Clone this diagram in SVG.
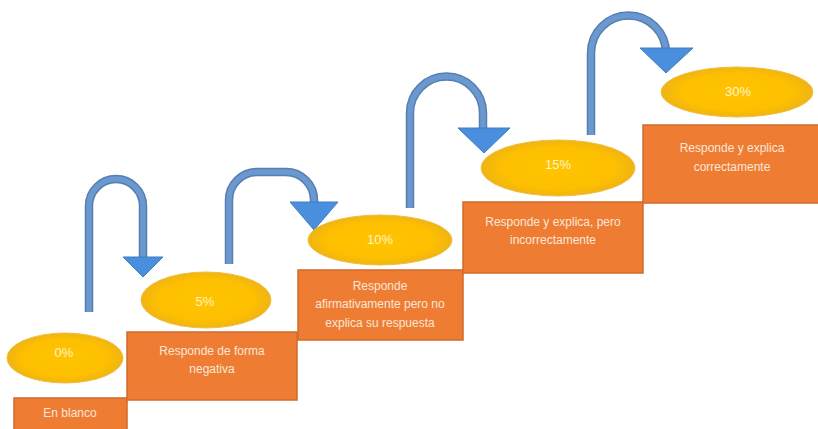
<svg xmlns="http://www.w3.org/2000/svg" width="818" height="429" viewBox="0 0 818 429">
<defs>
<radialGradient id="gold" cx="50%" cy="50%" r="50%">
<stop offset="0%" stop-color="#FFC400"/>
<stop offset="75%" stop-color="#FDBF00"/>
<stop offset="100%" stop-color="#EFB414"/>
</radialGradient>
<style>
.box{fill:#EE7D33;stroke:#D06A2C;stroke-width:1.5}
.ell{fill:url(#gold);stroke:#F0BE3C;stroke-width:1}
.bt{font-family:"Liberation Sans",Arial,sans-serif;font-size:12px;fill:#FBE6D8;text-anchor:middle}
.et{font-family:"Liberation Sans",Arial,sans-serif;font-size:13px;fill:#FFF3C8;text-anchor:middle}
.shaft-o{fill:none;stroke:#567FB2;stroke-width:8.5}
.shaft{fill:none;stroke:#6B98CE;stroke-width:5.5}
.head{fill:#4A8FDD;stroke:#3F7DC2;stroke-width:1}
</style>
</defs>
<rect width="818" height="429" fill="#FFFFFF"/>
<g id="connectors">
<path class="shaft-o" d="M89,312 V206 A27,27 0 0 1 143,206 V259"/>
<path class="shaft" d="M89,312 V206 A27,27 0 0 1 143,206 V259"/>
<polygon class="head" points="123,257 163,257 143,277"/>
<path class="shaft-o" d="M229,264 V200 A28,28 0 0 1 257,172 H286 A28,28 0 0 1 314,200 V204"/>
<path class="shaft" d="M229,264 V200 A28,28 0 0 1 257,172 H286 A28,28 0 0 1 314,200 V204"/>
<polygon class="head" points="290,202 338,202 314,230"/>
<path class="shaft-o" d="M410,208 V113 A36.5,36.5 0 0 1 483,113 V130"/>
<path class="shaft" d="M410,208 V113 A36.5,36.5 0 0 1 483,113 V130"/>
<polygon class="head" points="458,128 510,128 484,153"/>
<path class="shaft-o" d="M591,135 V53 A37.5,37.5 0 0 1 666,53 V50"/>
<path class="shaft" d="M591,135 V53 A37.5,37.5 0 0 1 666,53 V50"/>
<polygon class="head" points="640,48 693,48 666,73"/>
</g>
<g id="step1">
<rect class="box" x="14" y="398" width="113" height="40"/>
<text class="bt" x="70" y="417">En blanco</text>
</g>
<g id="step2">
<rect class="box" x="127" y="332" width="170" height="68"/>
<text class="bt" x="212" y="355">Responde de forma</text>
<text class="bt" x="212" y="373">negativa</text>
</g>
<g id="step3">
<rect class="box" x="298" y="270" width="165" height="70"/>
<text class="bt" x="380" y="290">Responde</text>
<text class="bt" x="380" y="308">afirmativamente pero no</text>
<text class="bt" x="380" y="327">explica su respuesta</text>
</g>
<g id="step4">
<rect class="box" x="463" y="202" width="180" height="71"/>
<text class="bt" x="553" y="226">Responde y explica, pero</text>
<text class="bt" x="553" y="244">incorrectamente</text>
</g>
<g id="step5">
<rect class="box" x="643" y="125" width="180" height="78"/>
<text class="bt" x="732" y="152">Responde y explica</text>
<text class="bt" x="732" y="171">correctamente</text>
</g>
<g id="score0">
<ellipse class="ell" cx="65" cy="358" rx="58" ry="25"/>
<text class="et" x="64" y="357">0%</text>
</g>
<g id="score5">
<ellipse class="ell" cx="206" cy="300" rx="65" ry="28"/>
<text class="et" x="205" y="306">5%</text>
</g>
<g id="score10">
<ellipse class="ell" cx="380" cy="240" rx="72" ry="25"/>
<text class="et" x="380" y="244">10%</text>
</g>
<g id="score15">
<ellipse class="ell" cx="558" cy="168" rx="77" ry="28"/>
<text class="et" x="558" y="169">15%</text>
</g>
<g id="score30">
<ellipse class="ell" cx="737" cy="92" rx="76" ry="25"/>
<text class="et" x="738" y="96">30%</text>
</g>
</svg>
